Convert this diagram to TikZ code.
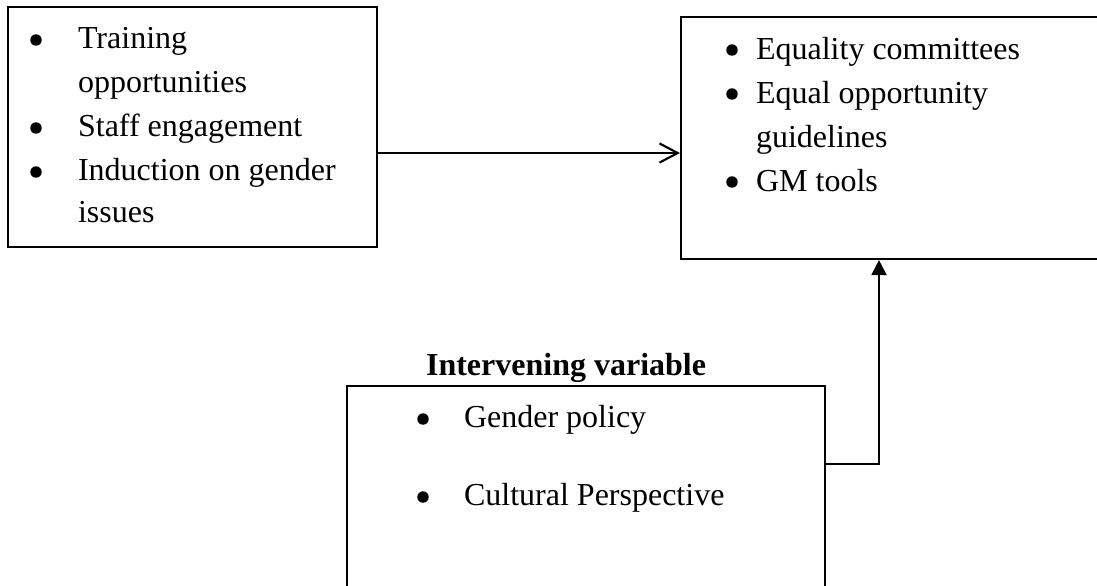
\documentclass[tikz,border=0pt]{standalone}
\usepackage{fontspec}
\setmainfont{Liberation Serif}
\usetikzlibrary{arrows.meta}
\usetikzlibrary{fit}

\begin{document}
\begin{tikzpicture}[x=0.375pt, y=-0.375pt, line width=0.8pt,
        box/.style={draw, inner sep=0pt},
        item/.style={anchor=base west, inner sep=0pt, font=\fontsize{12}{14}\selectfont},
        dot/.style={circle, fill, inner sep=0pt, minimum size=4.3pt}]
        \useasboundingbox (0, 0) rectangle (1097, 585);

        % boxes
        \node [box, fit={(8, 7) (377, 247)}] (train) {};
        \node [box, fit={(681, 17) (1120, 259)}] (outcome) {};
        \node [box, fit={(347, 386) (825, 620)}] (policy) {};

        % left box
        \node [dot] (tb1) at (36, 40) {};
        \node [item] (tt1) at (77, 48) {Training};
        \node [item] (tt2) at (77, 92) {opportunities};
        \node [dot] (tb2) at (36, 128) {};
        \node [item] (tt3) at (77, 136) {Staff engagement};
        \node [dot] (tb3) at (36, 172) {};
        \node [item] (tt4) at (77, 180) {Induction on gender};
        \node [item] (tt5) at (77, 222) {issues};

        % right box
        \node [dot] (ob1) at (732, 50) {};
        \node [item] (ot1) at (755, 59) {Equality committees};
        \node [dot] (ob2) at (732, 94) {};
        \node [item] (ot2) at (755, 103) {Equal opportunity};
        \node [item] (ot3) at (755, 147) {guidelines};
        \node [dot] (ob3) at (732, 182) {};
        \node [item] (ot4) at (755, 191) {GM tools};

        % lower box
        \node [item, font=\fontsize{12}{14}\selectfont\bfseries] (ptitle) at (425, 375) {Intervening variable};
        \node [dot] (pb1) at (423, 419) {};
        \node [item] (pt1) at (463, 427) {Gender policy};
        \node [dot] (pb2) at (423, 497) {};
        \node [item] (pt2) at (463, 505) {Cultural Perspective};

        % connectors
        \coordinate (armY) at (0, 153);
        \coordinate (elbowY) at (0, 464);
        \coordinate (riseX) at (879, 0);
        \draw [-{Straight Barb[length=6.8pt, width=7.2pt]}] (train.east |- armY) -- (outcome.west |- armY);
        \draw [-{Triangle[length=5.6pt, width=5.6pt]}] (policy.east |- elbowY) -| (outcome.south -| riseX);
    \end{tikzpicture}
\end{document}
